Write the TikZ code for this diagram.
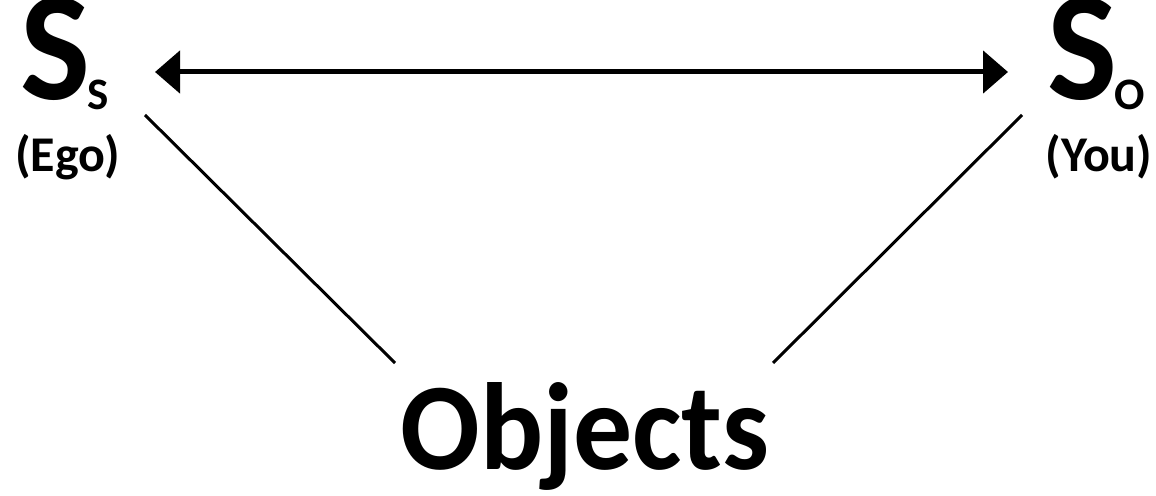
\documentclass[tikz,border=0pt]{standalone}
\usepackage{fontspec}
\usepackage{graphicx}
\setmainfont{Carlito}
\usetikzlibrary{arrows.meta}
\tikzset{
  lbl/.style={inner sep=0pt, anchor=base west, font=\bfseries},
  link/.style={line width=1.5pt, black},
  dbl/.style={line width=2.5pt, {Triangle[length=12.5pt,width=21pt]}-{Triangle[length=12.5pt,width=21pt]}}
}
\begin{document}
\begin{tikzpicture}[x=0.5pt,y=-0.5pt]
\useasboundingbox (0,0) rectangle (1156,496);
\fill[white] (0,0) rectangle (1156,496);
% left subject
\node[lbl, font=\bfseries\fontsize{78pt}{78pt}\selectfont] (Sl) at (20,100) {\scalebox{0.95}[1]{S}};
\node[lbl, font=\bfseries\fontsize{22.5pt}{22.5pt}\selectfont] (Sls) at (87,110) {S};
\node[lbl, font=\bfseries\fontsize{25pt}{25pt}\selectfont] (ego) at (15,172) {(Ego)};
% right subject
\node[lbl, font=\bfseries\fontsize{78pt}{78pt}\selectfont] (Sr) at (1047,100) {\scalebox{0.95}[1]{S}};
\node[lbl, font=\bfseries\fontsize{22.5pt}{22.5pt}\selectfont] (Srs) at (1114,110) {O};
\node[lbl, font=\bfseries\fontsize{25pt}{25pt}\selectfont] (you) at (1045,172) {(You)};
% objects
\node[lbl, font=\bfseries\fontsize{62pt}{62pt}\selectfont] (obj) at (400,469) {\scalebox{0.95}[1]{Objects}};
% connector ends
\coordinate (al) at (155,72);
\coordinate (ar) at (1008,72);
\coordinate (lt) at (145,115);
\coordinate (lb) at (395,363);
\coordinate (rt) at (1022,115);
\coordinate (rb) at (773,363);
\draw[dbl] (al) -- (ar);
\draw[link] (lt) -- (lb);
\draw[link] (rt) -- (rb);
\end{tikzpicture}
\end{document}
